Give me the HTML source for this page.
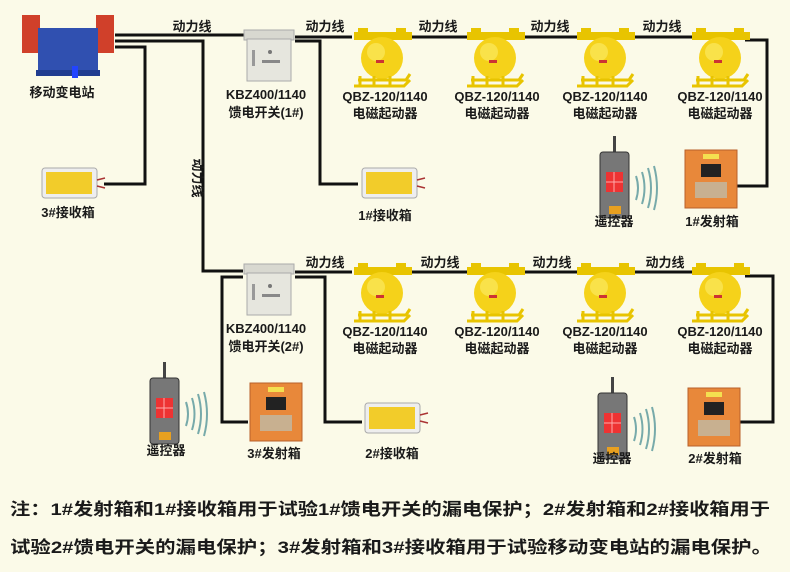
<!DOCTYPE html>
<html><head><meta charset="utf-8"><style>
html,body{margin:0;padding:0;background:#fbfae8;}
svg{display:block;}
text{font-family:"Liberation Sans","Noto Sans CJK SC",sans-serif;font-weight:bold;fill:#1a1a1a;}
.l{font-size:13px;text-anchor:middle;}
.n{font-size:17px;}
</style></head><body>
<svg width="790" height="572" viewBox="0 0 790 572" xmlns="http://www.w3.org/2000/svg">
<defs>
 <g id="qbz">
  <rect x="-28" y="-8" width="58" height="8" fill="#e8c400"/>
  <rect x="-24" y="-12" width="10" height="5" fill="#e8c400"/>
  <rect x="14" y="-12" width="10" height="5" fill="#e8c400"/>
  <circle cx="0" cy="18" r="21" fill="#f5d21a"/>
  <circle cx="-6" cy="12" r="9" fill="#fbe860" opacity="0.7"/>
  <rect x="-6" y="20" width="8" height="3" fill="#c33"/>
  <path d="M-24 40 L24 40 L28 34 M-28 46 L22 46 L28 40 M-22 36 L-22 46 M-8 36 L-8 46 M8 36 L8 46" stroke="#e8c400" stroke-width="3" fill="none"/>
 </g>
 <g id="kbz">
  <rect x="0" y="0" width="50" height="10" fill="#d8d8d0" stroke="#aaa"/>
  <rect x="3" y="9" width="44" height="42" fill="#e6e6de" stroke="#aaa"/>
  <rect x="8" y="20" width="3" height="16" fill="#999"/>
  <rect x="18" y="30" width="18" height="3" fill="#888"/>
  <circle cx="26" cy="22" r="2" fill="#777"/>
 </g>
 <g id="rx">
  <rect x="0" y="0" width="55" height="30" rx="3" fill="#eee" stroke="#aaa"/>
  <rect x="4" y="4" width="46" height="22" fill="#f2cc2a"/>
  <path d="M55 12 l8 -2 M55 18 l8 2" stroke="#a33" stroke-width="1.5"/>
 </g>
 <g id="tx">
  <rect x="0" y="0" width="52" height="58" fill="#e8883a" stroke="#b8602a"/>
  <rect x="18" y="4" width="16" height="5" fill="#f4e050"/>
  <rect x="16" y="14" width="20" height="13" fill="#222"/>
  <rect x="10" y="32" width="32" height="16" fill="#c8b090"/>
 </g>
 <g id="rc">
  <rect x="13" y="0" width="3" height="18" fill="#444"/>
  <rect x="0" y="16" width="29" height="66" rx="3" fill="#777" stroke="#333"/>
  <rect x="6" y="36" width="17" height="20" fill="#e33"/>
  <path d="M14 36 V56 M6 46 H23" stroke="#faa" stroke-width="1"/>
  <rect x="9" y="70" width="12" height="8" fill="#e8a020"/>
  <path d="M36 40 q4 12 0 24 M42 36 q5 16 0 32 M48 32 q6 20 0 40 M54 30 q6 22 0 44" stroke="#7aa" stroke-width="2" fill="none"/>
 </g>
</defs>
<rect width="790" height="572" fill="#fbfae8"/>
<!-- transformer -->
<rect x="22" y="15" width="18" height="38" fill="#d0402a"/>
<rect x="96" y="15" width="18" height="38" fill="#d0402a"/>
<rect x="38" y="28" width="60" height="45" fill="#3050b0"/>
<rect x="36" y="70" width="64" height="6" fill="#203c90"/>
<rect x="72" y="66" width="6" height="12" fill="#2244ff"/>
<text class="l" x="62" y="97">移动变电站</text>
<!-- wires -->
<g stroke="#111" stroke-width="3" fill="none">
 <path d="M115 35 H245"/>
 <path d="M115 41 H203 V271 H243"/>
 <path d="M115 47 H145 V184 H104"/>
 <path d="M295 37 H352"/>
 <path d="M295 41 H320 V184 H358"/>
 <path d="M410 37 H468 M520 37 H580 M632 37 H695"/>
 <path d="M745 40 H767 V186 H736"/>
 <path d="M243 277 H222 V422 H248"/>
 <path d="M295 272 H352"/>
 <path d="M295 277 H325 V422 H362"/>
 <path d="M410 272 H468 M520 272 H580 M632 272 H695"/>
 <path d="M745 276 H773 V422 H740"/>
</g>
<text class="l" x="192" y="31">动力线</text>
<text class="l" x="325" y="31">动力线</text>
<text class="l" x="438" y="31">动力线</text>
<text class="l" x="550" y="31">动力线</text>
<text class="l" x="662" y="31">动力线</text>
<text class="l" x="325" y="267">动力线</text>
<text class="l" x="440" y="267">动力线</text>
<text class="l" x="552" y="267">动力线</text>
<text class="l" x="665" y="267">动力线</text>
<text class="l" transform="translate(193,178) rotate(90)">动力线</text>
<!-- devices -->
<use href="#kbz" x="244" y="30"/>
<text class="l" x="266" y="99">KBZ400/1140</text>
<text class="l" x="266" y="117">馈电开关(1#)</text>
<use href="#kbz" x="244" y="264"/>
<text class="l" x="266" y="333">KBZ400/1140</text>
<text class="l" x="266" y="351">馈电开关(2#)</text>
<use href="#qbz" x="382" y="40"/><use href="#qbz" x="495" y="40"/><use href="#qbz" x="605" y="40"/><use href="#qbz" x="720" y="40"/>
<use href="#qbz" x="382" y="275"/><use href="#qbz" x="495" y="275"/><use href="#qbz" x="605" y="275"/><use href="#qbz" x="720" y="275"/>
<g>
<text class="l" x="385" y="101">QBZ-120/1140</text><text class="l" x="385" y="118">电磁起动器</text>
<text class="l" x="497" y="101">QBZ-120/1140</text><text class="l" x="497" y="118">电磁起动器</text>
<text class="l" x="605" y="101">QBZ-120/1140</text><text class="l" x="605" y="118">电磁起动器</text>
<text class="l" x="720" y="101">QBZ-120/1140</text><text class="l" x="720" y="118">电磁起动器</text>
<text class="l" x="385" y="336">QBZ-120/1140</text><text class="l" x="385" y="353">电磁起动器</text>
<text class="l" x="497" y="336">QBZ-120/1140</text><text class="l" x="497" y="353">电磁起动器</text>
<text class="l" x="605" y="336">QBZ-120/1140</text><text class="l" x="605" y="353">电磁起动器</text>
<text class="l" x="720" y="336">QBZ-120/1140</text><text class="l" x="720" y="353">电磁起动器</text>
</g>
<use href="#rx" x="42" y="168"/><text class="l" x="68" y="217">3#接收箱</text>
<use href="#rx" x="362" y="168"/><text class="l" x="385" y="220">1#接收箱</text>
<use href="#rx" x="365" y="403"/><text class="l" x="392" y="458">2#接收箱</text>
<use href="#tx" x="685" y="150"/><text class="l" x="712" y="226">1#发射箱</text>
<use href="#tx" x="250" y="383"/><text class="l" x="274" y="458">3#发射箱</text>
<use href="#tx" x="688" y="388"/><text class="l" x="715" y="463">2#发射箱</text>
<use href="#rc" x="600" y="136"/><text class="l" x="614" y="226">遥控器</text>
<use href="#rc" x="598" y="377"/><text class="l" x="612" y="463">遥控器</text>
<use href="#rc" x="150" y="362"/><text class="l" x="166" y="455">遥控器</text>
<text class="n" x="10" y="515" textLength="760" lengthAdjust="spacingAndGlyphs">注：1#发射箱和1#接收箱用于试验1#馈电开关的漏电保护；2#发射箱和2#接收箱用于</text>
<text class="n" x="10" y="553" textLength="762" lengthAdjust="spacingAndGlyphs">试验2#馈电开关的漏电保护；3#发射箱和3#接收箱用于试验移动变电站的漏电保护。</text>
</svg>
</body></html>
